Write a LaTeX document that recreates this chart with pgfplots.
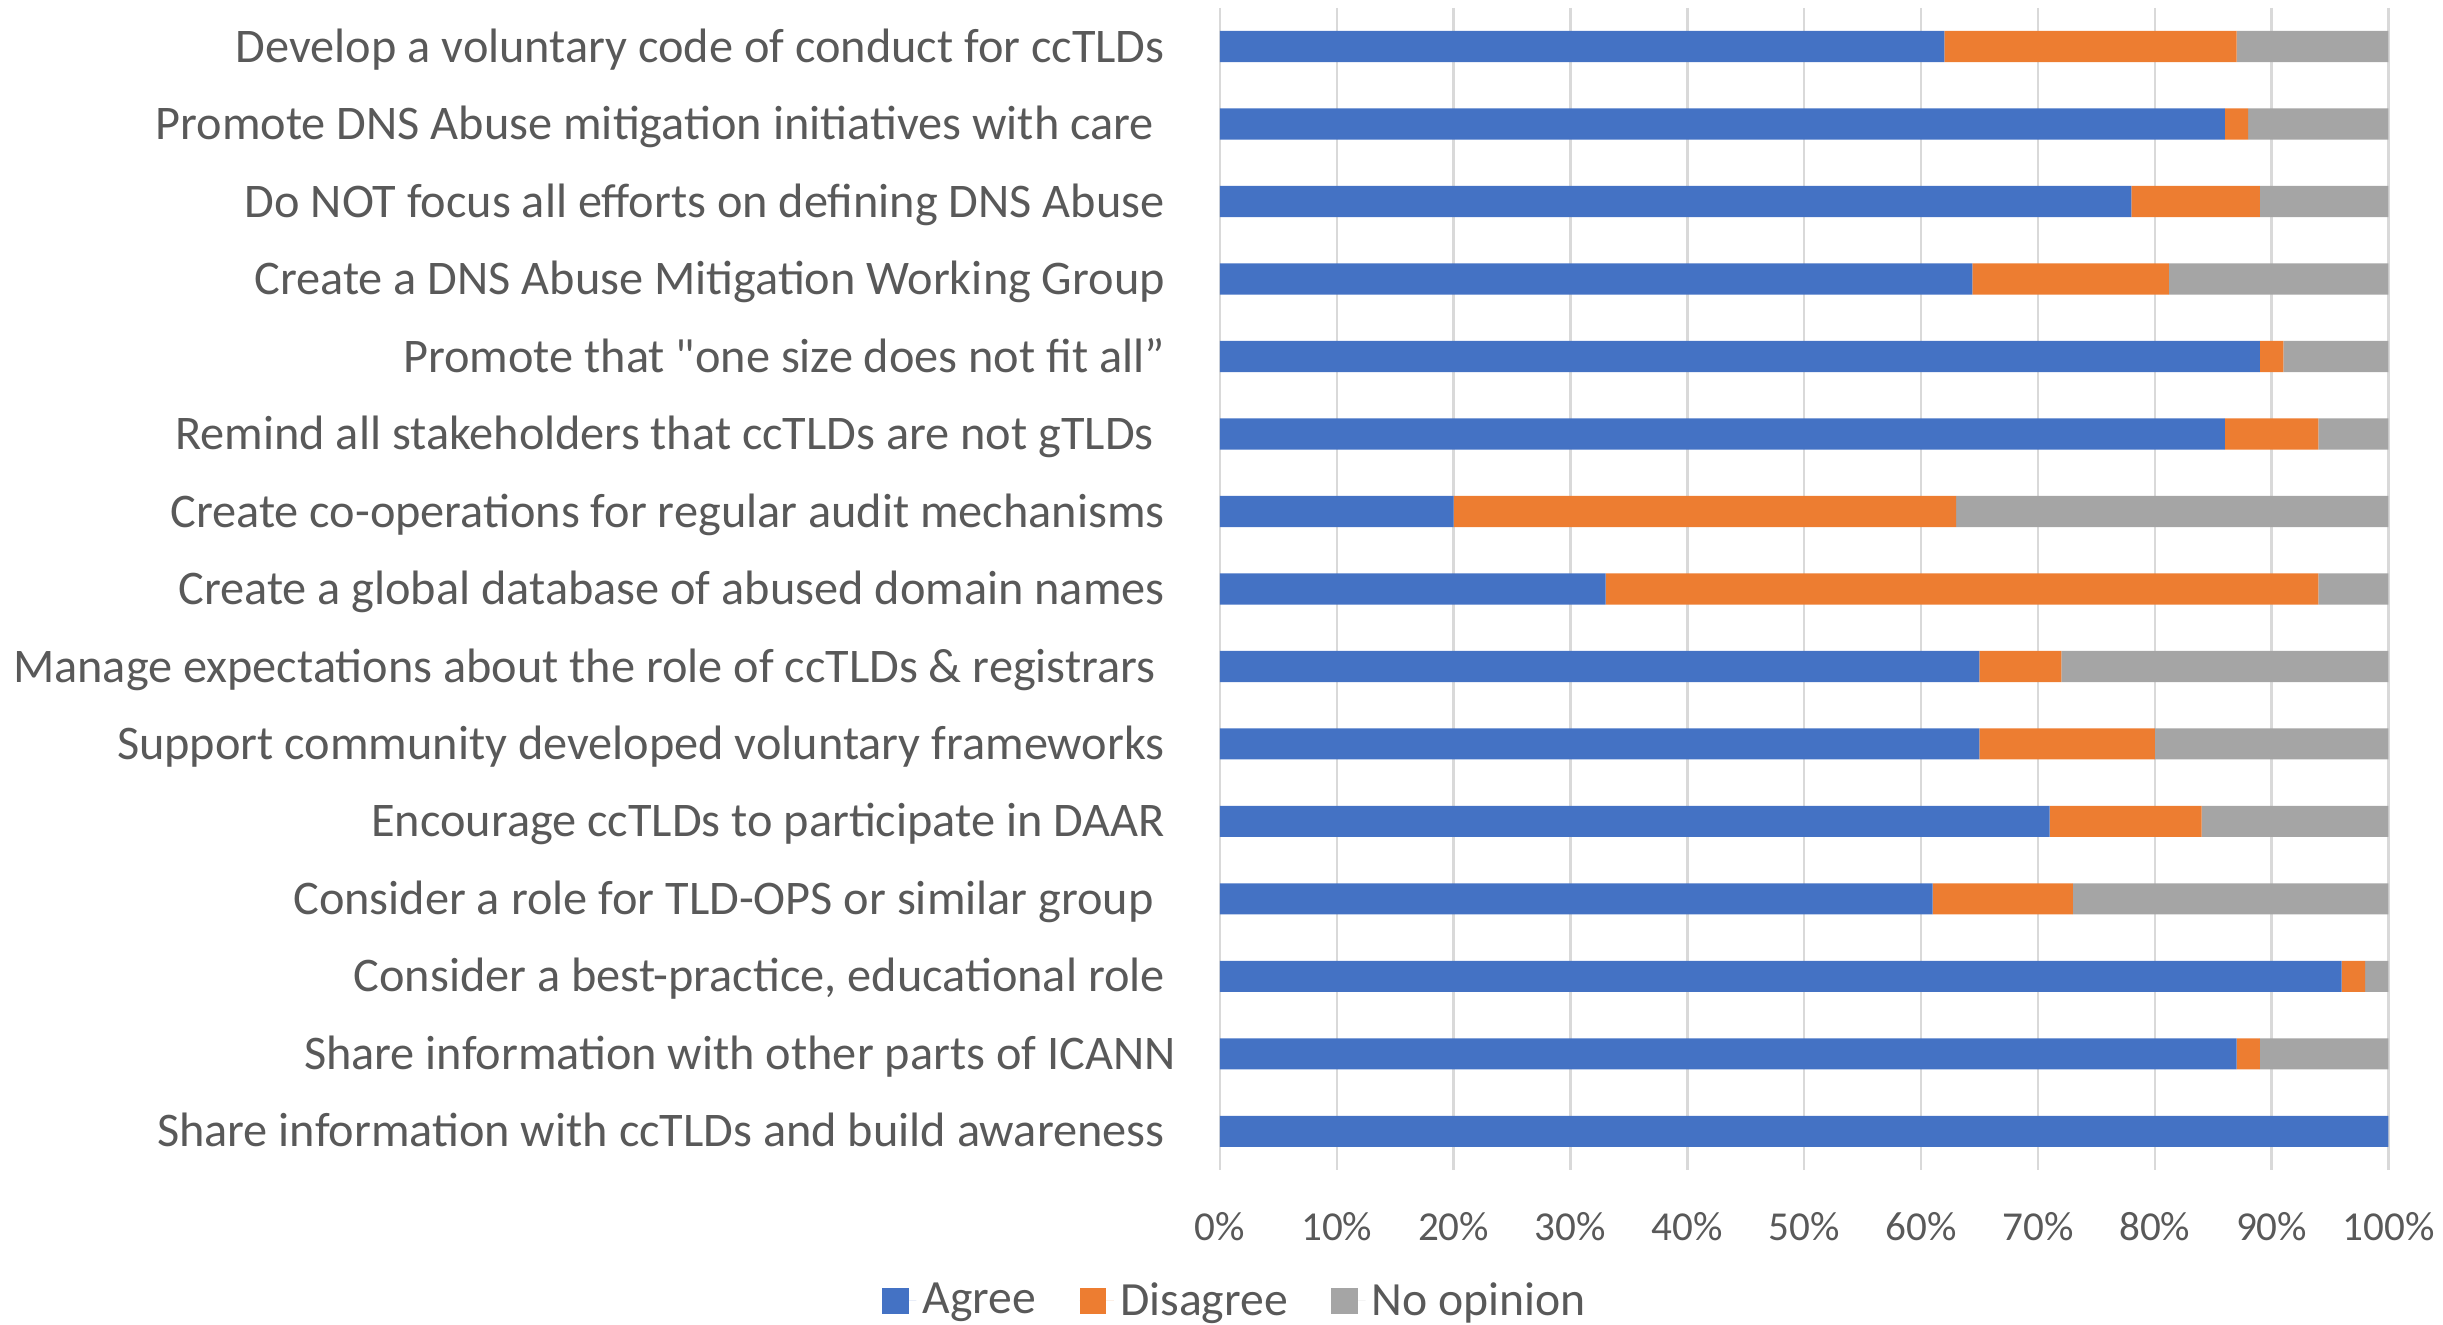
\documentclass[border=0pt]{standalone}
\usepackage{fontspec}
\setmainfont{Carlito}
\newfontfamily\qfont{Carlito}[Ligatures=TeXOff]
\usepackage{pgfplots}
\pgfplotsset{compat=1.18}
\definecolor{cAgree}{HTML}{4472C4}
\definecolor{cDis}{HTML}{ED7D31}
\definecolor{cNo}{HTML}{A5A5A5}
\definecolor{cGrid}{HTML}{D9D9D9}
\definecolor{cText}{HTML}{595959}
\begin{document}
\begin{tikzpicture}
\begin{axis}[
  name=ax, at={(0,0)}, anchor=south west,
  scale only axis, width=375pt, height=373pt,
  xbar stacked, bar width=10pt,
  xmin=0, xmax=100, ymin=-0.5, ymax=14.5, y dir=reverse,
  ytick={0,...,14},
  yticklabels={
    Develop a voluntary code of conduct for ccTLDs,
    Promote DNS Abuse mitigation initiatives with care\hspace*{3.5pt},
    Do NOT focus all efforts on defining DNS Abuse,
    Create a DNS Abuse Mitigation Working Group,
    Promote that {\qfont"}one size does not fit all”,
    Remind all stakeholders that ccTLDs are not gTLDs\hspace*{3.5pt},
    Create co-operations for regular audit mechanisms,
    Create a global database of abused domain names,
    Manage expectations about the role of ccTLDs \& registrars\hspace*{3pt},
    Support community developed voluntary frameworks,
    Encourage ccTLDs to participate in DAAR,
    Consider a role for TLD-OPS or similar group\hspace*{3.5pt},
    {Consider a best-practice, educational role},
    Share information with other parts of ICANN\hspace*{-3.5pt},
    Share information with ccTLDs and build awareness},
  xtick={0,10,20,30,40,50,60,70,80,90,100},
  xticklabels={0\%,10\%,20\%,30\%,40\%,50\%,60\%,70\%,80\%,90\%,100\%},
  xmajorgrids, grid style={cGrid, line width=0.8pt},
  axis line style={draw=none}, major tick length=0pt,
  yticklabel style={font=\fontsize{15.5}{18}\selectfont, color=cText, anchor=base east, inner sep=0pt, xshift=-17.5pt, yshift=-5pt},
  xticklabel style={font=\fontsize{13.2}{16}\selectfont, color=cText, anchor=center, inner sep=0pt, yshift=-18pt},
  legend columns=3,
  legend image code/.code={\fill[#1] (0pt,-4.25pt) rectangle (8.5pt,4.25pt); \path (0pt,0pt) -- (11pt,0pt);},
  legend style={at={(0.0147,-0.1126)}, anchor=center, draw=none, fill=none,
    font=\fontsize{15.3}{18}\selectfont, text=cText,
    /tikz/every even column/.append style={column sep=12pt}},
]
\addplot[fill=cAgree, draw=none] coordinates {
(62,0) (86,1) (78,2) (64.4,3) (89,4) (86,5) (20,6) (33,7) (65,8) (65,9) (71,10) (61,11) (96,12) (87,13) (100,14)};
\addplot[fill=cDis, draw=none] coordinates {
(25,0) (2,1) (11,2) (16.8,3) (2,4) (8,5) (43,6) (61,7) (7,8) (15,9) (13,10) (12,11) (2,12) (2,13) (0,14)};
\addplot[fill=cNo, draw=none] coordinates {
(13,0) (12,1) (11,2) (18.8,3) (9,4) (6,5) (37,6) (6,7) (28,8) (20,9) (16,10) (27,11) (2,12) (11,13) (0,14)};
\legend{Agree, Disagree, No opinion}
\end{axis}
\pgfresetboundingbox
\path[use as bounding box] (-391.5pt,-49.5pt) rectangle (392.5pt,375.5pt);
\end{tikzpicture}
\end{document}
